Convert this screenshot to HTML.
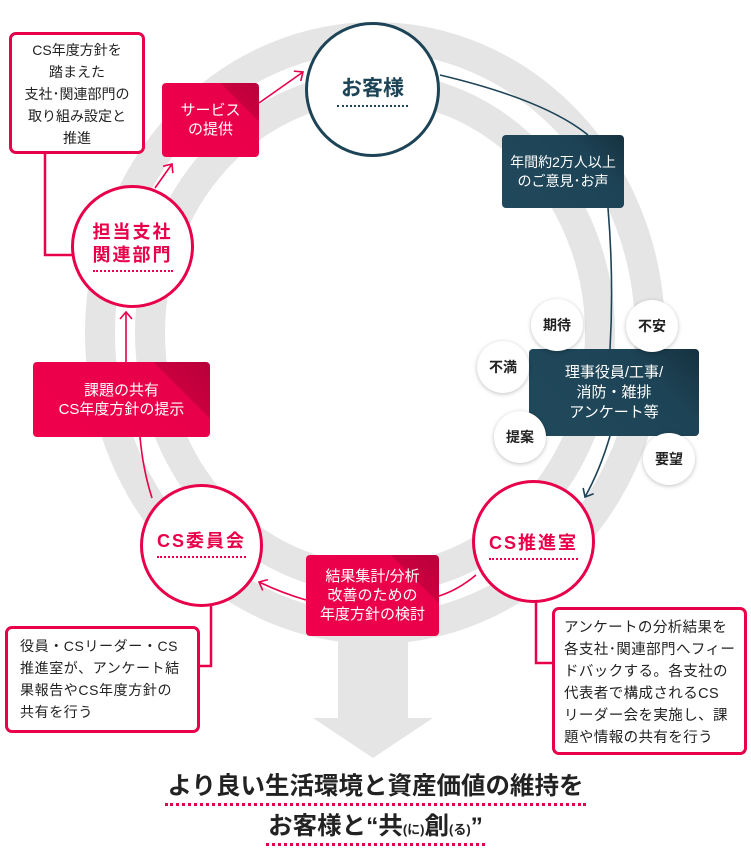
<!DOCTYPE html>
<html><head><meta charset="utf-8"><style>
body{margin:0;width:751px;height:860px;position:relative;background:#fff;overflow:hidden;font-family:"Liberation Sans","Noto Sans CJK JP",sans-serif;}
.a{position:absolute;box-sizing:border-box;}
.rb{background:linear-gradient(225deg,#b8003a 0%,#c9003f 22%,#e8004a 23%,#f0004c 100%);color:#fff;border-radius:4px;display:flex;align-items:center;justify-content:center;text-align:center;font-size:15px;line-height:19px;}
.db{background:linear-gradient(225deg,#16313f 0%,#1d4456 30%,#21495c 100%);color:#fff;border-radius:4px;display:flex;align-items:center;justify-content:center;text-align:center;}
.note{background:#fff;border:3px solid #e8004a;border-radius:7px;color:#222;font-size:14px;}
.circ{border-radius:50%;background:#fff;display:flex;align-items:center;justify-content:center;text-align:center;font-weight:bold;}
.bub{border-radius:50%;background:#fff;box-shadow:0 1px 4px rgba(0,0,0,.25);display:flex;align-items:center;justify-content:center;font-weight:bold;font-size:14px;color:#222;}
.dot{border-bottom:2px dotted currentColor;padding-bottom:3px;}
</style></head><body>
<svg class="a" style="left:0;top:0" width="751" height="860">
<defs>
<marker id="mr" markerUnits="userSpaceOnUse" markerWidth="14" markerHeight="14" refX="8" refY="7" orient="auto"><path d="M1,1 L8,7 L1,13" fill="none" stroke="#e8004a" stroke-width="1.6"/></marker>
<marker id="md" markerUnits="userSpaceOnUse" markerWidth="14" markerHeight="14" refX="8" refY="7" orient="auto"><path d="M1,1 L8,7 L1,13" fill="none" stroke="#1d4456" stroke-width="1.6"/></marker>
</defs>
<rect x="338" y="560" width="70" height="165" fill="#e5e5e5"/>
<polygon points="313,718 433,718 373,758" fill="#e5e5e5"/>
<ellipse cx="375" cy="333" rx="275" ry="296" fill="none" stroke="#e5e5e5" stroke-width="30"/>
<ellipse cx="375" cy="333" rx="225" ry="246" fill="none" stroke="#e5e5e5" stroke-width="30"/>
<path d="M126 362 L126 312" stroke="#e8004a" stroke-width="1.6" fill="none" marker-end="url(#mr)"/>
<path d="M155 188 L172 164" stroke="#e8004a" stroke-width="1.6" fill="none" marker-end="url(#mr)"/>
<path d="M259 103 L303 72" stroke="#e8004a" stroke-width="1.6" fill="none" marker-end="url(#mr)"/>
<path d="M476 575 Q458 590 439 596" stroke="#e8004a" stroke-width="1.6" fill="none"/>
<path d="M306 600 Q282 593 259 582" stroke="#e8004a" stroke-width="1.6" fill="none" marker-end="url(#mr)"/>
<path d="M152 498 Q143 470 140 437" stroke="#e8004a" stroke-width="1.6" fill="none"/>
<path d="M440 75 Q545 100 588 135" stroke="#1d4456" stroke-width="1.6" fill="none"/>
<path d="M608 208 Q614 280 610 349" stroke="#1d4456" stroke-width="1.6" fill="none"/>
<path d="M610 436 Q600 470 585 497" stroke="#1d4456" stroke-width="1.6" fill="none" marker-end="url(#md)"/>
<path d="M45 154 L45 255 L72 255" stroke="#e8004a" stroke-width="2.5" fill="none"/>
<path d="M211 604 L211 666 L200 666" stroke="#e8004a" stroke-width="2.5" fill="none"/>
<path d="M536 600 L536 663 L552 663" stroke="#e8004a" stroke-width="2.5" fill="none"/>
</svg>

<div class="a note" style="left:9px;top:32px;width:136px;height:122px;text-align:center;line-height:22px;padding-top:4px;">CS年度方針を<br>踏まえた<br>支社･関連部門の<br>取り組み設定と<br>推進</div>
<div class="a rb" style="left:162px;top:83px;width:97px;height:74px;">サービス<br>の提供</div>
<div class="a circ" style="left:305px;top:22px;width:135px;height:135px;border:3px solid #1d4456;color:#1d4456;font-size:21px;"><span class="dot" style="padding:0 4px 3px;">お客様</span></div>
<div class="a circ" style="left:71px;top:185px;width:123px;height:123px;border:3px solid #e8004a;color:#e8004a;font-size:18px;line-height:23px;letter-spacing:2px;"><span class="dot">担当支社<br>関連部門</span></div>
<div class="a db" style="left:502px;top:135px;width:122px;height:73px;font-size:14px;line-height:19px;">年間約2万人以上<br>のご意見･お声</div>
<div class="a db" style="left:529px;top:349px;width:170px;height:87px;font-size:15px;line-height:20px;">理事役員/工事/<br>消防・雑排<br>アンケート等</div>
<div class="a bub" style="left:531px;top:299px;width:52px;height:52px;">期待</div>
<div class="a bub" style="left:626px;top:300px;width:52px;height:52px;">不安</div>
<div class="a bub" style="left:477px;top:341px;width:52px;height:52px;">不満</div>
<div class="a bub" style="left:494px;top:411px;width:52px;height:52px;">提案</div>
<div class="a bub" style="left:643px;top:433px;width:52px;height:52px;">要望</div>
<div class="a rb" style="left:33px;top:362px;width:177px;height:75px;">課題の共有<br>CS年度方針の提示</div>
<div class="a circ" style="left:140px;top:484px;width:123px;height:123px;border:3px solid #e8004a;color:#e8004a;font-size:18px;letter-spacing:2px;align-items:flex-start;padding-top:40px;"><span class="dot">CS委員会</span></div>
<div class="a circ" style="left:472px;top:480px;width:123px;height:123px;border:3px solid #e8004a;color:#e8004a;font-size:18px;letter-spacing:2px;align-items:flex-start;padding-top:46px;"><span class="dot">CS推進室</span></div>
<div class="a rb" style="left:306px;top:555px;width:133px;height:81px;">結果集計/分析<br>改善のための<br>年度方針の検討</div>
<div class="a note" style="left:5px;top:626px;width:195px;height:107px;line-height:22px;padding:6px 0 0 12px;font-size:14px;letter-spacing:0.6px;">役員・CSリーダー・CS<br>推進室が、アンケート結<br>果報告やCS年度方針の<br>共有を行う</div>
<div class="a note" style="left:552px;top:607px;width:195px;height:148px;line-height:22px;padding:7px 0 0 9px;font-size:14.5px;letter-spacing:0.4px;">アンケートの分析結果を<br>各支社･関連部門へフィー<br>ドバックする。各支社の<br>代表者で構成されるCS<br>リーダー会を実施し、課<br>題や情報の共有を行う</div>
<div class="a" style="left:0;top:772px;width:751px;text-align:center;font-weight:bold;font-size:24.5px;color:#222;line-height:30px;"><span style="border-bottom:3px dotted #e8004a;padding:0 2px 3px;">より良い生活環境と資産価値の維持を</span></div>
<div class="a" style="left:0;top:812px;width:751px;text-align:center;font-weight:bold;font-size:24.5px;color:#222;line-height:30px;"><span style="border-bottom:3px dotted #e8004a;padding:0 2px 3px;">お客様と“共<span style="font-size:13px">(に)</span>創<span style="font-size:13px">(る)</span>”</span></div>
</body></html>
